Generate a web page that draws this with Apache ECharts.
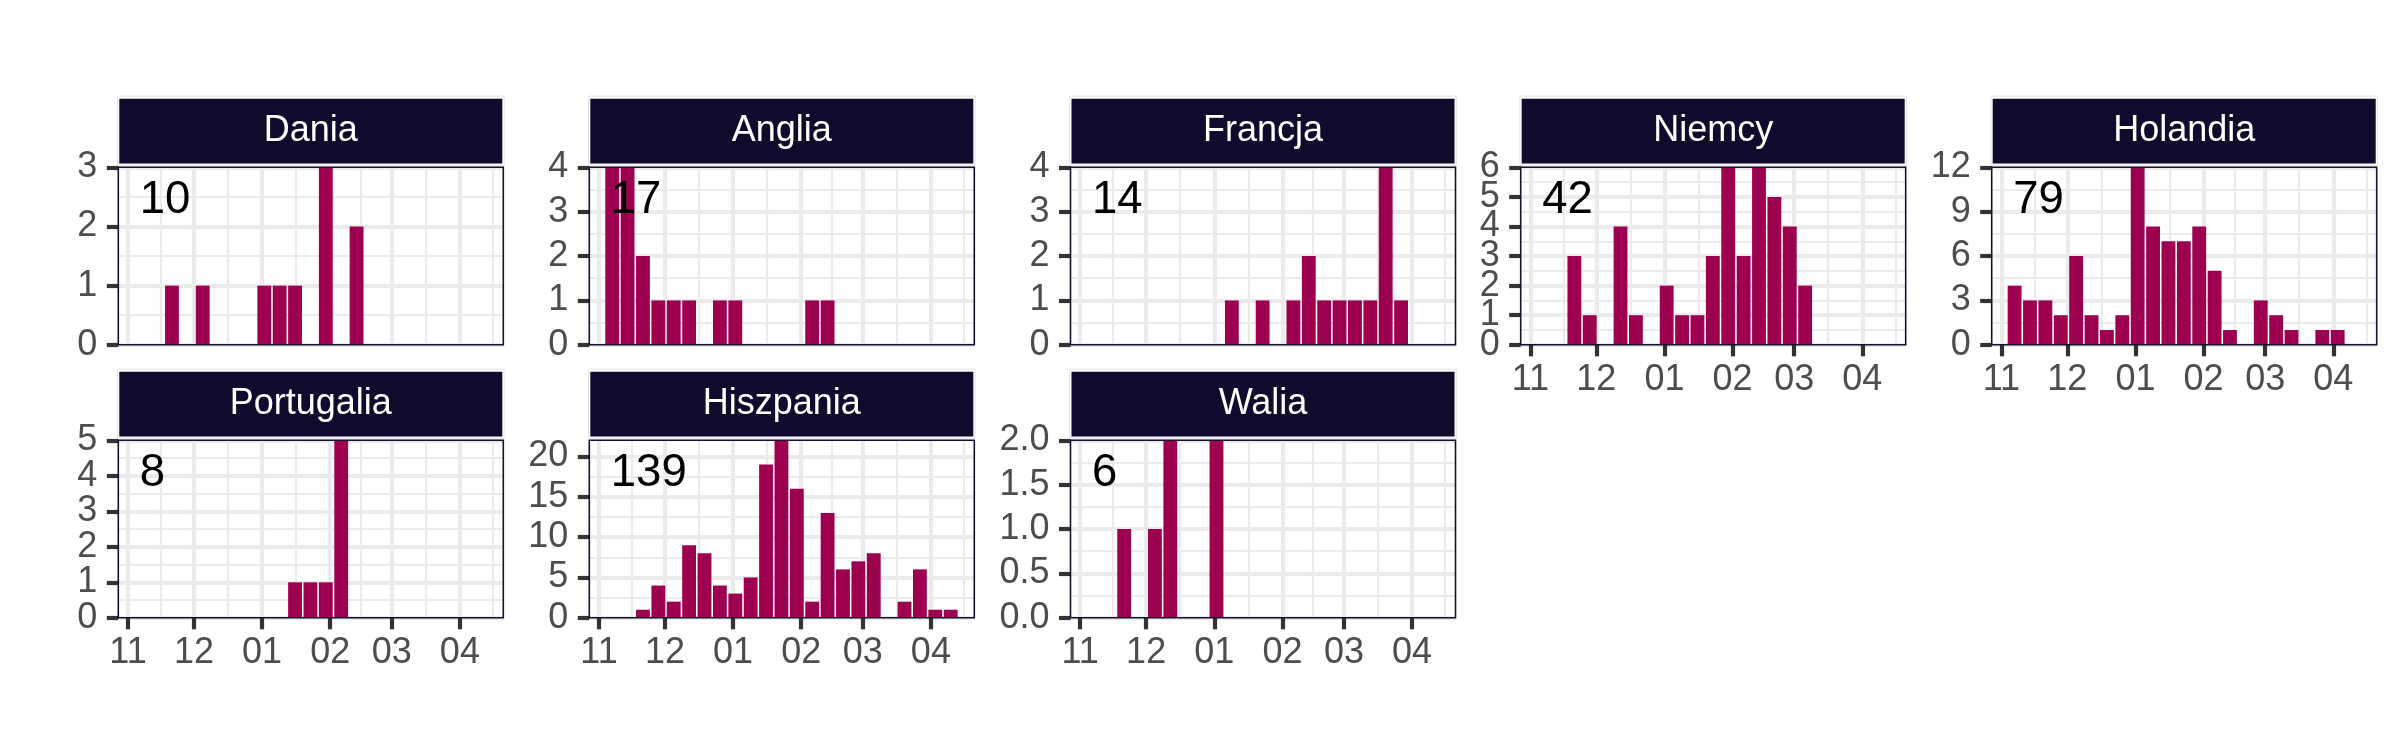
<!DOCTYPE html>
<html>
<head>
<meta charset="utf-8">
<script src="https://cdn.jsdelivr.net/npm/echarts@6/dist/echarts.min.js"></script>
<style>
html,body{margin:0;padding:0;background:#ffffff;}
#chart{width:2400px;height:750px;}
</style>
</head>
<body>
<div id="chart"></div>
<script>
// ---------- DATA ----------
const WEEKS = ['2020-11-07','2020-11-14','2020-11-21','2020-11-28','2020-12-05','2020-12-12','2020-12-19','2020-12-26',
  '2021-01-02','2021-01-09','2021-01-16','2021-01-23','2021-01-30','2021-02-06','2021-02-13','2021-02-20','2021-02-27',
  '2021-03-06','2021-03-13','2021-03-20','2021-03-27','2021-04-03','2021-04-10'];
const MONTH_STARTS = ['2020-10-01','2020-11-01','2020-12-01','2021-01-01','2021-02-01','2021-03-01','2021-04-01','2021-05-01'];
const X_MIN = '2020-10-27 14:00';
const X_MAX = '2021-04-20 18:00';

const COUNTRIES = ['Dania','Anglia','Francja','Niemcy','Holandia','Portugalia','Hiszpania','Walia'];

const DANIA      = [0,0,1,0,1,0,0,0,1,1,1,0,3,0,2,0,0,0,0,0,0,0,0];
const ANGLIA     = [4,4,2,1,1,1,0,1,1,0,0,0,0,1,1,0,0,0,0,0,0,0,0];
const FRANCJA    = [0,0,0,0,0,0,0,0,0,1,0,1,0,1,2,1,1,1,1,4,1,0,0];
const NIEMCY     = [0,0,3,1,0,4,1,0,2,1,1,3,6,3,6,5,4,2,0,0,0,0,0];
const HOLANDIA   = [4,3,3,2,6,2,1,2,12,8,7,7,8,5,1,0,3,2,1,0,1,1,0];
const PORTUGALIA = [0,0,0,0,0,0,0,0,0,0,1,1,1,5,0,0,0,0,0,0,0,0,0];
const HISZPANIA  = [0,0,1,4,2,9,8,4,3,5,19,22,16,2,13,6,7,8,0,2,6,1,1];
const WALIA      = [0,0,1,0,1,2,0,0,2,0,0,0,0,0,0,0,0,0,0,0,0,0,0];

const Y_TICKS_DANIA      = [0,1,2,3];
const Y_TICKS_ANGLIA     = [0,1,2,3,4];
const Y_TICKS_FRANCJA    = [0,1,2,3,4];
const Y_TICKS_NIEMCY     = [0,1,2,3,4,5,6];
const Y_TICKS_HOLANDIA   = [0,3,6,9,12];
const Y_TICKS_PORTUGALIA = [0,1,2,3,4,5];
const Y_TICKS_HISZPANIA  = [0,5,10,15,20];
const Y_TICKS_WALIA      = [0,0.5,1,1.5,2];

const SERIES_DATA = [DANIA, ANGLIA, FRANCJA, NIEMCY, HOLANDIA, PORTUGALIA, HISZPANIA, WALIA];
const Y_TICKS = [Y_TICKS_DANIA, Y_TICKS_ANGLIA, Y_TICKS_FRANCJA, Y_TICKS_NIEMCY, Y_TICKS_HOLANDIA,
                 Y_TICKS_PORTUGALIA, Y_TICKS_HISZPANIA, Y_TICKS_WALIA];

// ---------- LAYOUT ----------
const COL_LEFT = [118.3, 589.3, 1070.5, 1520.7, 1991.7];
const ROW_TOP = [167.3, 440.3];
const PANEL_W = 385;
const PANEL_H = 177.5;
const PANEL_POS = [[0,0],[0,1],[0,2],[0,3],[0,4],[1,0],[1,1],[1,2]]; // [row, col]
const SHOW_X = [false,false,false,true,true,true,true,true];

const FONT = '"Liberation Sans", Arial, Helvetica, sans-serif';
const BAR_COLOR = '#9E0050';
const NAVY = '#0E0B2C';
const GRID_COLOR = '#EBEBEB';
const TEXT_COLOR = '#4D4D4D';
const TICK_COLOR = '#333333';

function toTs(s) {
  const m = s.match(/^(\d{4})-(\d{2})-(\d{2})(?: (\d{2}):(\d{2}))?$/);
  return new Date(+m[1], +m[2] - 1, +m[3], m[4] ? +m[4] : 0, m[5] ? +m[5] : 0).getTime();
}
const xMin = toTs(X_MIN), xMax = toTs(X_MAX);
const majorX = MONTH_STARTS.map(toTs).filter(t => t >= xMin && t <= xMax);
const allMonths = MONTH_STARTS.map(toTs);
const minorX = allMonths.slice(1).map((t, i) => (t + allMonths[i]) / 2).filter(t => t >= xMin && t <= xMax);
const monthFmt = v => String(new Date(v).getMonth() + 1).padStart(2, '0');

const grids = [], xAxes = [], yAxes = [], series = [], graphics = [];

COUNTRIES.forEach((name, i) => {
  const [r, c] = PANEL_POS[i];
  const left = COL_LEFT[c], top = ROW_TOP[r];
  const data = SERIES_DATA[i];
  const ticks = Y_TICKS[i];
  const yMax = Math.max(...data);
  const step = ticks[1] - ticks[0];
  const minorY = ticks.map(t => t + step / 2).filter(t => t < yMax);
  const decimals = ticks.some(t => !Number.isInteger(t)) ? 1 : 0;
  const evenTicks = ticks.filter((_, k) => k % 2 === 0);
  const oddTicks = ticks.filter((_, k) => k % 2 === 1);
  const yLabelStyle = {
    formatter: v => Number(v).toFixed(decimals), fontSize: 36, color: TEXT_COLOR, fontFamily: FONT,
    margin: 21, showMinLabel: true, showMaxLabel: true, hideOverlap: false
  };

  grids.push({ left: left, top: top, width: PANEL_W, height: PANEL_H, show: false, containLabel: false });

  // minor x axis (index 2i), major x axis (2i+1)
  xAxes.push({
    type: 'value', gridIndex: i, min: xMin, max: xMax, position: 'top', scale: true,
    axisLine: { show: false }, axisLabel: { show: false },
    axisTick: { show: false, customValues: minorX },
    splitLine: { show: true, lineStyle: { color: GRID_COLOR, width: 2.2 } }
  });
  xAxes.push({
    type: 'value', gridIndex: i, min: xMin, max: xMax, position: 'bottom', scale: true,
    axisLine: { show: false },
    axisTick: { show: SHOW_X[i], length: 11.5, lineStyle: { color: TICK_COLOR, width: 4.2 }, customValues: majorX },
    axisLabel: { show: SHOW_X[i], customValues: majorX, formatter: monthFmt, fontSize: 36, color: TEXT_COLOR,
                 fontFamily: FONT, margin: 17, showMinLabel: true, showMaxLabel: true, hideOverlap: false },
    splitLine: { show: true, lineStyle: { color: GRID_COLOR, width: 4.2 } }
  });

  // minor y axis: minor grid lines + every second tick label
  yAxes.push({
    type: 'value', gridIndex: i, min: 0, max: yMax, position: 'left',
    axisLine: { show: false },
    axisLabel: Object.assign({ show: oddTicks.length > 0, customValues: oddTicks }, yLabelStyle),
    axisTick: { show: false, customValues: minorY },
    splitLine: { show: true, lineStyle: { color: GRID_COLOR, width: 2.2 } }
  });
  // major y axis: ticks, major grid lines, the other tick labels
  yAxes.push({
    type: 'value', gridIndex: i, min: 0, max: yMax, position: 'left',
    axisLine: { show: false },
    axisTick: { show: true, length: 11.5, lineStyle: { color: TICK_COLOR, width: 4.2 }, customValues: ticks },
    axisLabel: Object.assign({ customValues: evenTicks }, yLabelStyle),
    splitLine: { show: true, lineStyle: { color: GRID_COLOR, width: 4.2 } }
  });

  series.push({
    type: 'bar', name: name, xAxisIndex: 2 * i + 1, yAxisIndex: 2 * i + 1,
    data: WEEKS.map((w, j) => [toTs(w), data[j]]),
    barWidth: '90%', itemStyle: { color: BAR_COLOR }, silent: true
  });

  // panel border
  graphics.push({
    type: 'rect', z: 100, silent: true,
    shape: { x: left, y: top, width: PANEL_W, height: PANEL_H },
    style: { fill: null, stroke: '#15112F', lineWidth: 1.6 }
  });
  // strip
  graphics.push({
    type: 'rect', z: 100, silent: true,
    shape: { x: left - 0.8, y: top - 71.2, width: PANEL_W + 1.6, height: 69 },
    style: { fill: null, stroke: '#E3E3E3', lineWidth: 1 }
  });
  graphics.push({
    type: 'rect', z: 100, silent: true,
    shape: { x: left + 1, y: top - 68.6, width: PANEL_W - 2, height: 64.8 },
    style: { fill: NAVY }
  });
  graphics.push({
    type: 'text', z: 101, silent: true, x: left + PANEL_W / 2, y: top - 36.2,
    style: { text: name, fill: '#FFFFFF', fontSize: 36, fontFamily: FONT, align: 'center', verticalAlign: 'middle' }
  });
  // total count
  const total = data.reduce((a, b) => a + b, 0);
  graphics.push({
    type: 'text', z: 101, silent: true, x: left + 21.5, y: top + 33,
    style: { text: String(total), fill: '#000000', fontSize: 45.5, fontFamily: FONT, align: 'left', verticalAlign: 'middle' }
  });
});

const chart = echarts.init(document.getElementById('chart'), null, { renderer: 'canvas' });
chart.setOption({
  animation: false,
  backgroundColor: '#ffffff',
  grid: grids,
  xAxis: xAxes,
  yAxis: yAxes,
  series: series,
  graphic: graphics
});
</script>
</body>
</html>
